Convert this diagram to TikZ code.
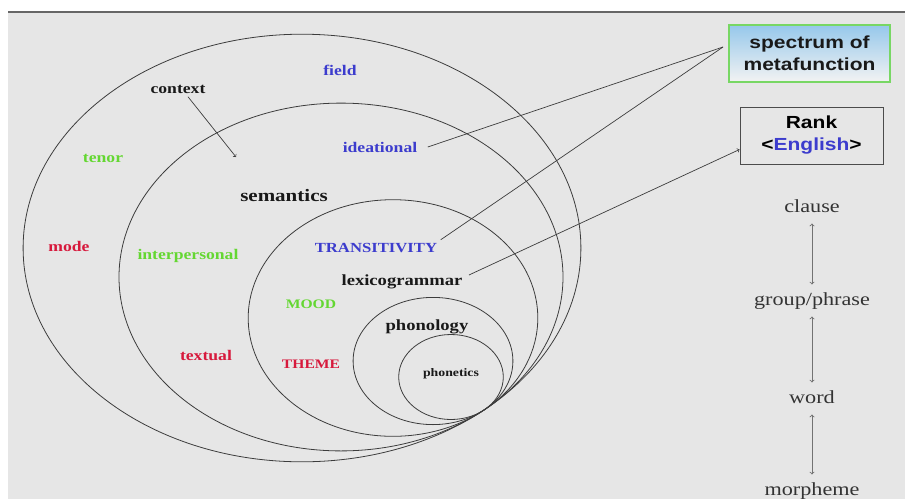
\documentclass[tikz,border=0pt]{standalone}
\usepackage{fontspec}
\setmainfont[FakeStretch=1.2]{Liberation Serif}
\newfontfamily\boxfont[FakeStretch=1.2]{Liberation Sans}
\usepackage{tikz}

\definecolor{slide}{RGB}{230,230,230}
\definecolor{ringgray}{RGB}{60,60,60}
\definecolor{fieldblue}{RGB}{60,60,205}
\definecolor{tenorgreen}{RGB}{100,215,50}
\definecolor{modered}{RGB}{215,25,60}
\definecolor{specgreen}{RGB}{120,215,100}
\definecolor{specblue}{RGB}{150,200,235}

\begin{document}
\begin{tikzpicture}[x=1pt,y=-1pt,
	ring/.style={draw=ringgray,line width=0.8pt},
	lbl/.style={font=\bfseries\fontsize{14.7}{16}\selectfont,text=black!90},
	caps/.style={font=\bfseries\fontsize{13}{15}\selectfont},
	rankword/.style={font=\fontsize{18.5}{20}\selectfont,text=black!80,anchor=base,text height=13pt,text depth=4pt},
	spoke/.style={draw=ringgray,line width=0.7pt},
	updown/.style={<->,draw=black!55,line width=0.9pt,shorten <=4pt,shorten >=4pt},
	infobox/.style={minimum height=57pt,align=center,font=\boxfont\bfseries\fontsize{17.5}{22}\selectfont}]
	%BACKGROUND
	\clip (0,0) rectangle (905,499);
	\fill[white] (0,0) rectangle (905,499);
	\fill[slide] (8,12) rectangle (905,499);
	\draw[black!60,line width=1.2pt] (8,12)--(905,12);			%top rule

	%RINGS, all touching near (484,410)
	\draw[ring] (302,248) ellipse [x radius=278.9,y radius=213.8];	%context
	\draw[ring] (341,277) ellipse [x radius=222,y radius=173.9];	%semantics
	\draw[ring] (393,318) ellipse [x radius=144.8,y radius=118.3];	%lexicogrammar
	\draw[ring] (433,361) ellipse [x radius=79.9,y radius=63.6];	%phonology
	\draw[ring] (451,377) ellipse [x radius=52.3,y radius=42.5];	%phonetics

	%LABELS
	\node[lbl,text=fieldblue] (field) at (340,70) {field};
	\node[lbl] (context) at (178,89) {context};
	\node[lbl,text=tenorgreen] (tenor) at (103,158) {tenor};
	\node[lbl,text=fieldblue] (ideat) at (380,147) {ideational};
	\node[lbl,font=\bfseries\fontsize{17.5}{19}\selectfont] (sem) at (284,196) {semantics};
	\node[lbl,text=modered] (mode) at (69,246) {mode};
	\node[lbl,text=tenorgreen] (inter) at (188,256) {interpersonal};
	\node[caps,text=fieldblue,font=\bfseries\fontsize{13.9}{15}\selectfont] (trans) at (376,248) {TRANSITIVITY};
	\node[lbl,font=\bfseries\fontsize{15.5}{17}\selectfont] (lexico) at (402,282) {lexicogrammar};
	\node[caps,text=tenorgreen] (mood) at (311,304) {MOOD};
	\node[lbl,font=\bfseries\fontsize{15.5}{17}\selectfont] (phono) at (427,327) {phonology};
	\node[lbl,text=modered] (textual) at (206,355) {textual};
	\node[caps,text=modered] (theme) at (311,364) {THEME};
	\node[lbl,font=\bfseries\fontsize{11.5}{13}\selectfont] (phonet) at (451,374) {phonetics};

	%BOXES
	\node[infobox,draw=specgreen,line width=1.5pt,top color=specblue,bottom color=slide!50!white,
		minimum width=161pt,text=black!90] (spectrum) at (809.5,53.5) {spectrum of\\metafunction};
	\node[infobox,draw=black!70,line width=1pt,fill=slide,minimum width=143pt] (rank) at (811.5,135.5)
		{Rank\\<\textcolor{fieldblue}{English}>};

	%CONNECTORS
	\coordinate (ctip) at (236,157);
	\coordinate (meet) at (723,47);
	\draw[spoke,->] ([xshift=10pt]context.south) -- (ctip);
	\draw[spoke] ([xshift=7pt]ideat.east) -- (meet);
	\draw[spoke] (trans.north east) -- (meet);
	\draw[spoke,->] ([xshift=3pt,yshift=7pt]lexico.east) -- ([yshift=-14pt]rank.west);

	%RANK SCALE
	\node[rankword] (clause) at (812,212) {clause};
	\node[rankword] (group) at (812,305) {group/phrase};
	\node[rankword] (word) at (812,403) {word};
	\node[rankword] (morph) at (812,495) {morpheme};
	\foreach \a/\b in {clause/group,group/word,word/morph}
		\draw[updown] (\a) -- (\b);
\end{tikzpicture}
\end{document}
